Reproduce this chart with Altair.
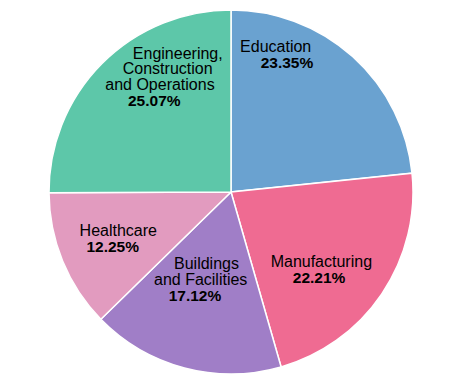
import altair as alt
import pandas as pd

# ---- data ----
categories = [
    "Education",
    "Manufacturing",
    "Buildings and Facilities",
    "Healthcare",
    "Engineering, Construction and Operations",
]
shares = [23.35, 22.21, 17.12, 12.25, 25.07]
label_lines = [
    ["Education"],
    ["Manufacturing"],
    ["Buildings", "and Facilities"],
    ["Healthcare"],
    ["Engineering,", "Construction", "and Operations"],
]
colors = ["#6aa2d0", "#ef6b92", "#a07ec7", "#e29bbf", "#5dc7a9"]

# ---- label placement (style: pixel nudges from the slice mid-angle anchor) ----
LABEL_RADIUS = 120
line_offsets = {
    "Education": [(-35.7, -50.4)],
    "Manufacturing": [(-9.1, 7.5)],
    "Buildings and Facilities": [(6.2, -39.0), (0.4, -23.0)],
    "Healthcare": [(-1.7, -1.5)],
    "Engineering, Construction and Operations": [(31.8, -48.0), (21.7, -33.3), (14.0, -17.3)],
}
pct_offsets = {
    "Education": (-24.4, -34.6),
    "Manufacturing": (-11.4, 23.5),
    "Buildings and Facilities": (-5.3, -7.3),
    "Healthcare": (-7.3, 14.2),
    "Engineering, Construction and Operations": (8.3, -1.3),
}

max_lines = max(len(l) for l in label_lines)
rows = []
for i, (c, s, lines) in enumerate(zip(categories, shares, label_lines)):
    row = {"category": c, "share": s, "order": i}
    for j in range(max_lines):
        row[f"line{j}"] = lines[j] if j < len(lines) else ""
    rows.append(row)
df = pd.DataFrame(rows)

FONT = "Liberation Sans"
PIE_R = 182

base = alt.Chart(df).transform_calculate(
    pct="format(datum.share, '.2f') + '%'"
).encode(
    theta=alt.Theta("share:Q", stack=True),
    order=alt.Order("order:Q"),
)

arcs = base.mark_arc(radius=PIE_R, stroke="white", strokeWidth=1.5).encode(
    color=alt.Color(
        "category:N",
        scale=alt.Scale(domain=categories, range=colors),
        legend=None,
    )
)

layers = [arcs]
for i, cat in enumerate(categories):
    pred = alt.datum.category == cat
    for j, (dx, dy) in enumerate(line_offsets[cat]):
        layers.append(
            base.mark_text(
                radius=LABEL_RADIUS, dx=dx, dy=dy, align="center",
                baseline="alphabetic", font=FONT, fontSize=16, color="black",
            ).encode(text=alt.condition(pred, alt.Text(f"line{j}:N"), alt.value("")))
        )
    pdx, pdy = pct_offsets[cat]
    layers.append(
        base.mark_text(
            radius=LABEL_RADIUS, dx=pdx, dy=pdy, align="center",
            baseline="alphabetic", font=FONT, fontSize=15.5, fontWeight="bold",
            color="black",
        ).encode(text=alt.condition(pred, alt.Text("pct:N"), alt.value("")))
    )

chart = alt.layer(*layers).properties(
    width=2 * PIE_R,
    height=2 * PIE_R,
    padding={"left": 41, "top": 2, "right": 0, "bottom": 0},
    autosize=alt.AutoSizeParams(type="none"),
).configure_view(stroke=None)

chart.save("out.html", embed_options={"renderer": "svg", "actions": False})
